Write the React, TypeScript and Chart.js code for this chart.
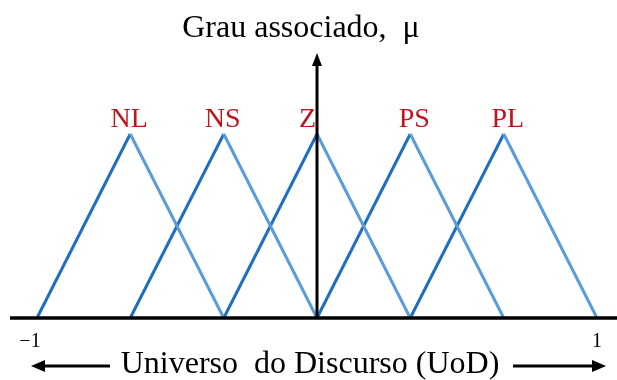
import React, { useEffect, useRef } from "react";
import { Chart, registerables } from "chart.js";

Chart.register(...registerables);

const setNames = ["NL", "NS", "Z", "PS", "PL"];
const setLeft = [-1, -0.667, -0.333, 0, 0.333];
const setPeak = [-0.667, -0.333, 0, 0.333, 0.667];
const setRight = [-0.333, 0, 0.333, 0.667, 1];
const peakDegree = 1;
const xTickLabels = ["\u22121", "1"];
const xTickValues = [-1, 1];
const yTitle = "Grau associado,  \u03bc";
const xTitle = "Universo  do Discurso (UoD)";

const DARK = "#1f6ec2";
const LIGHT = "#5b9bd8";
const RED = "#c0141c";
const SERIF = "'Liberation Serif', 'Times New Roman', serif";

export default function App() {
  const ref = useRef<HTMLCanvasElement | null>(null);
  useEffect(() => {
    if (!ref.current) return;
    const datasets = setNames.map((name, i) => ({
      label: name,
      data: [
        { x: setLeft[i], y: 0 },
        { x: setPeak[i], y: peakDegree },
        { x: setRight[i], y: 0 },
      ],
      borderWidth: 3,
      pointRadius: 0,
      fill: false,
      tension: 0,
      clip: false as any,
      borderColor: DARK,
      segment: {
        borderColor: (ctx: any) => (ctx.p1.parsed.y > ctx.p0.parsed.y ? DARK : LIGHT),
      },
    }));

    const overlay = {
      id: "overlay",
      afterDatasetsDraw(chart: any) {
        const c = chart.ctx as CanvasRenderingContext2D;
        const xs = chart.scales.x;
        const ys = chart.scales.y;
        const y0 = ys.getPixelForValue(0);
        const x0 = xs.getPixelForValue(0);
        c.save();
        // horizontal axis
        c.strokeStyle = "#000";
        c.lineWidth = 3.5;
        c.beginPath();
        c.moveTo(10, y0);
        c.lineTo(chart.width, y0);
        c.stroke();
        // vertical axis with arrow
        c.lineWidth = 3;
        c.beginPath();
        c.moveTo(x0, y0);
        c.lineTo(x0, 63);
        c.stroke();
        c.fillStyle = "#000";
        c.beginPath();
        c.moveTo(x0, 53);
        c.lineTo(x0 - 5, 66);
        c.lineTo(x0 + 5, 66);
        c.closePath();
        c.fill();
        // set labels
        c.fillStyle = RED;
        c.font = "28px " + SERIF;
        c.textBaseline = "alphabetic";
        setNames.forEach((n, i) => {
          const px = xs.getPixelForValue(setPeak[i]);
          const py = ys.getPixelForValue(peakDegree) - 7;
          if (setPeak[i] === 0) {
            c.textAlign = "right";
            c.fillText(n, px - 1, py);
          } else {
            c.textAlign = "center";
            c.fillText(n, px + (setPeak[i] > 0 ? 4 : -1), py);
          }
        });
        // tick labels
        c.fillStyle = "#000";
        c.font = "20px " + SERIF;
        c.textAlign = "center";
        xTickValues.forEach((v, i) => {
          c.fillText(xTickLabels[i], xs.getPixelForValue(v) - (v < 0 ? 7 : 0), y0 + 29);
        });
        // titles
        c.font = "32px " + SERIF;
        c.fillText(yTitle, x0 - 16, 37);
        c.fillText(xTitle, x0 - 7, 373);
        // bottom arrows
        const ay = 366;
        c.lineWidth = 3;
        c.beginPath();
        c.moveTo(42, ay);
        c.lineTo(110, ay);
        c.moveTo(513, ay);
        c.lineTo(594, ay);
        c.stroke();
        c.beginPath();
        c.moveTo(31, ay);
        c.lineTo(45, ay - 6);
        c.lineTo(45, ay + 6);
        c.closePath();
        c.fill();
        c.beginPath();
        c.moveTo(606, ay);
        c.lineTo(592, ay - 6);
        c.lineTo(592, ay + 6);
        c.closePath();
        c.fill();
        c.restore();
      },
    };

    const chart = new Chart(ref.current, {
      type: "line",
      data: { datasets: datasets as any },
      options: {
        animation: false,
        responsive: false,
        maintainAspectRatio: false,
        layout: { padding: { left: 37, right: 20, top: 134, bottom: 62 } },
        plugins: { legend: { display: false }, tooltip: { enabled: false } },
        scales: {
          x: { type: "linear", min: -1, max: 1, display: false },
          y: { type: "linear", min: 0, max: 1, display: false },
        },
      },
      plugins: [overlay],
    });
    return () => chart.destroy();
  }, []);

  return (
    <div style={{ position: "fixed", left: 0, top: 0, width: 617, height: 380, background: "#fff" }}>
      <canvas ref={ref} width={617} height={380} style={{ width: 617, height: 380 }} />
    </div>
  );
}
